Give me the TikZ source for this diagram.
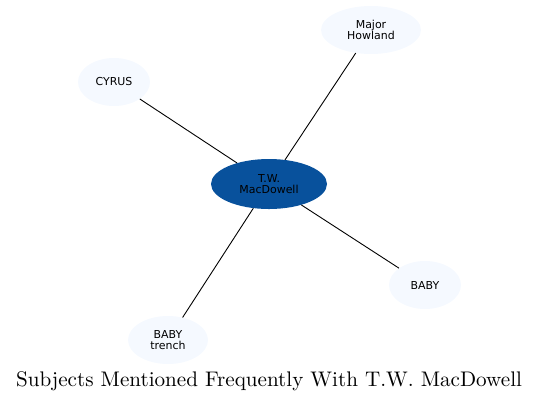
\documentclass[tikz,border=0pt]{standalone}
\usepackage{fontspec}
\newfontfamily\dejavu{DejaVu Sans}
\usetikzlibrary{shapes.geometric}
\definecolor{hubblue}{HTML}{08519C}
\definecolor{leafblue}{HTML}{F5F9FF}

\begin{document}
\begin{tikzpicture}[x=1bp,y=-1bp,
  subj/.style={ellipse,fill=#1,inner sep=0pt,align=center,
    font=\dejavu\fontsize{11}{11.6}\selectfont},
  subj/.default=leafblue,
  link/.style={draw=black,line width=0.9pt}]

 \useasboundingbox (0,0) rectangle (540,401);

 \node[subj=hubblue, minimum width=116bp, minimum height=50bp] (tw) at (269,184) {T.W.\\MacDowell};
 \node[subj, minimum width=100bp, minimum height=48bp] (howland) at (371,30) {Major\\Howland};
 \node[subj, minimum width=72bp, minimum height=48bp] (cyrus) at (114,82) {CYRUS};
 \node[subj, minimum width=72bp, minimum height=48bp] (baby) at (425,285) {BABY};
 \node[subj, minimum width=80bp, minimum height=48bp] (trench) at (168,340) {BABY\\trench};

 \draw[link] (tw) -- (howland);
 \draw[link] (tw) -- (cyrus);
 \draw[link] (tw) -- (baby);
 \draw[link] (tw) -- (trench);

 \node[anchor=base, scale=2.12, font=\fontsize{10}{12}\selectfont] (title) at (269,386) {Subjects Mentioned Frequently With T.W. MacDowell};

\end{tikzpicture}
\end{document}
